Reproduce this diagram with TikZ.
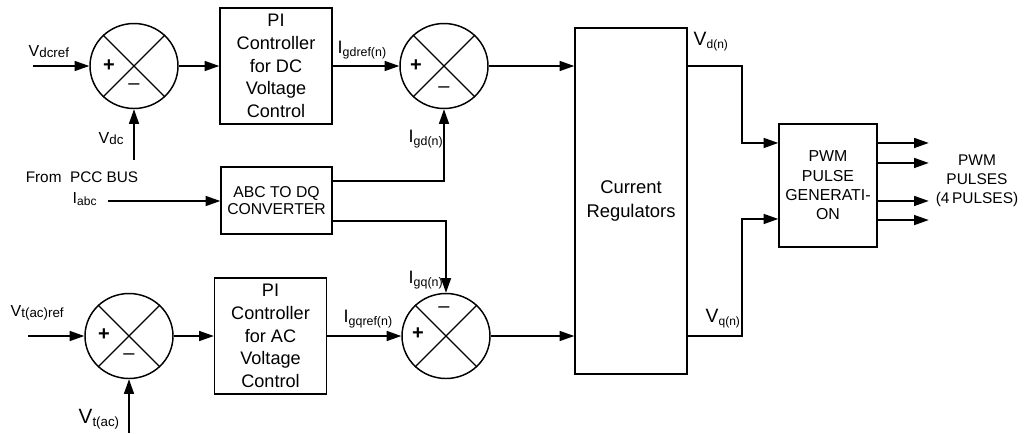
\documentclass[tikz,border=0pt]{standalone}
\usepackage{fontspec}
\setmainfont{Liberation Sans}
\usetikzlibrary{shapes.geometric,arrows.meta,calc}
% \sig[main size]{main}{sub}{sub size}{drop}
\newcommand{\sig}[5][13.5]{{\fontsize{#1}{14}\selectfont #2}\raisebox{-#5}{\fontsize{#4}{10}\selectfont #3}}
\begin{document}
\begin{tikzpicture}[x=0.75pt,y=-0.75pt,line width=1.1pt,
  arr/.style={-{Triangle[length=11pt,width=7.5pt]}},
  sum/.style={ellipse,draw,minimum width=66pt,minimum height=63.75pt,inner sep=0pt},
  blk/.style={draw,align=center,inner sep=0pt},
  pi/.style={blk,minimum width=84pt,minimum height=87pt,font=\fontsize{13.6}{17}\selectfont},
  lbl/.style={inner sep=0pt,anchor=base west},
  sgn/.style={inner sep=0pt,font=\fontsize{15}{15}\selectfont}]
\useasboundingbox (0,0) rectangle (1024,433);

% summing junctions
\node[sum] (S1) at (134,66) {};
\node[sum] (S2) at (444,66) {};
\node[sum] (S3) at (446,336) {};
\node[sum] (S4) at (129,336) {};
\foreach \s in {S1,S2,S3,S4}
  \draw[line width=1pt] (\s.45) -- (\s.225) (\s.135) -- (\s.315);

% signs
\node[sgn] (p1) at ($(S1)+(-25,0)$) {\textbf{+}};
\node[sgn] (m1) at ($(S1)+(0,21)$) {–};
\node[sgn] (p2) at ($(S2)+(-28,0)$) {\textbf{+}};
\node[sgn] (m2) at ($(S2)+(0,24)$) {–};
\node[sgn] (p3) at ($(S3)+(-28,-2)$) {\textbf{+}};
\node[sgn] (m3) at ($(S3)+(-2,-26)$) {–};
\node[sgn] (p4) at ($(S4)+(-25,-1)$) {\textbf{+}};
\node[sgn] (m4) at ($(S4)+(0,21)$) {–};

% blocks
\node[pi] (B1) at (276,66) {PI\\Controller\\for DC\\Voltage\\Control};
\node[pi] (B2) at (270.5,336) {PI\\Controller\\for AC\\Voltage\\Control};
\node[blk,minimum width=83.25pt,minimum height=50.25pt,font=\fontsize{11.8}{12.8}\selectfont] (ABC) at (276.5,200.5) {ABC TO DQ\\CONVERTER};
\node[blk,minimum width=84pt,minimum height=259.5pt,font=\fontsize{13.8}{18}\selectfont] (CR) at (631,201) {Current\\Regulators};
\node[blk,minimum width=73.5pt,minimum height=92.25pt,font=\fontsize{11.9}{14.5}\selectfont] (PWM) at (828,185.5) {PWM\\PULSE\\GENERATI-\\ON};

% plain texts
\node[inner sep=0pt,font=\fontsize{11.5}{13}\selectfont] (pcc) at (82,177) {From\ \ PCC BUS};
\node[inner sep=0pt,align=center,font=\fontsize{11.6}{14.3}\selectfont] (out) at (977,181) {PWM\\PULSES\\(4\,PULSES)};

% signal labels
\node[lbl] (Lvdcref) at (28,56) {\sig[12]{V}{dcref}{10}{1pt}};
\node[lbl] (Lvdc) at (98,143) {\sig[12]{V}{dc}{10}{1pt}};
\node[lbl] (Liabc) at (72,203) {\sig[12]{I}{abc}{9}{2pt}};
\node[lbl] (Ligdref) at (337,53) {\sig{I}{gdref(n)}{9.3}{2.5pt}};
\node[lbl] (Ligd) at (408,142) {\sig{I}{gd(n)}{9.3}{2.5pt}};
\node[lbl] (Ligq) at (408,283) {\sig{I}{gq(n)}{9.3}{2.5pt}};
\node[lbl] (Ligqref) at (343,322) {\sig{I}{gqref(n)}{9.3}{2.5pt}};
\node[lbl] (Lvtref) at (10,316) {\sig[12]{V}{t(ac)ref}{10}{1pt}};
\node[lbl] (Lvt) at (78,423) {\sig[15.5]{V}{t(ac)}{10}{2.5pt}};
\node[lbl] (Lvd) at (693,45) {\sig[14.5]{V}{d(n)}{9}{2.5pt}};
\node[lbl] (Lvq) at (705,322) {\sig[14.5]{V}{q(n)}{9}{2.5pt}};

% free ends and bends
\coordinate (in1) at (33,66);
\coordinate (in2) at (134,160);
\coordinate (in3) at (108,201);
\coordinate (in4) at (28,336);
\coordinate (in5) at (129,433);
\coordinate (bx) at (742,0);

% connectors
\draw[arr] (in1) -- (S1.west);
\draw[arr] (in2) -- (S1.south);
\draw[arr] (S1.east) -- (B1.west);
\draw[arr] (B1.east) -- (S2.west);
\draw[arr] (S2.east) -- (CR.west |- S2.east);
\draw[arr] (in3) -- (in3 -| ABC.west);
\draw[arr] ([yshift=14.6pt]ABC.east) -| (S2.south);
\draw[arr] ([yshift=-15.4pt]ABC.east) -| (S3.north);
\draw[arr] (in4) -- (S4.west);
\draw[arr] (in5) -- (S4.south);
\draw[arr] (S4.east) -- (B2.west);
\draw[arr] (B2.east) -- (S3.west);
\draw[arr] (S3.east) -- (CR.west |- S3.east);
\coordinate (P1) at ([yshift=31.9pt]PWM.west);
\coordinate (P2) at ([yshift=-25.1pt]PWM.west);
\draw[arr] (CR.east |- S2.east) -- (bx |- S2.east) -- (bx |- P1) -- (P1);
\draw[arr] (CR.east |- S3.east) -- (bx |- S3.east) -- (bx |- P2) -- (P2);
\foreach \d in {31.9,16.9,-11.6,-25.9}
  \draw[arr] ([yshift=\d pt]PWM.east) -- ++(51,0);
\end{tikzpicture}
\end{document}
